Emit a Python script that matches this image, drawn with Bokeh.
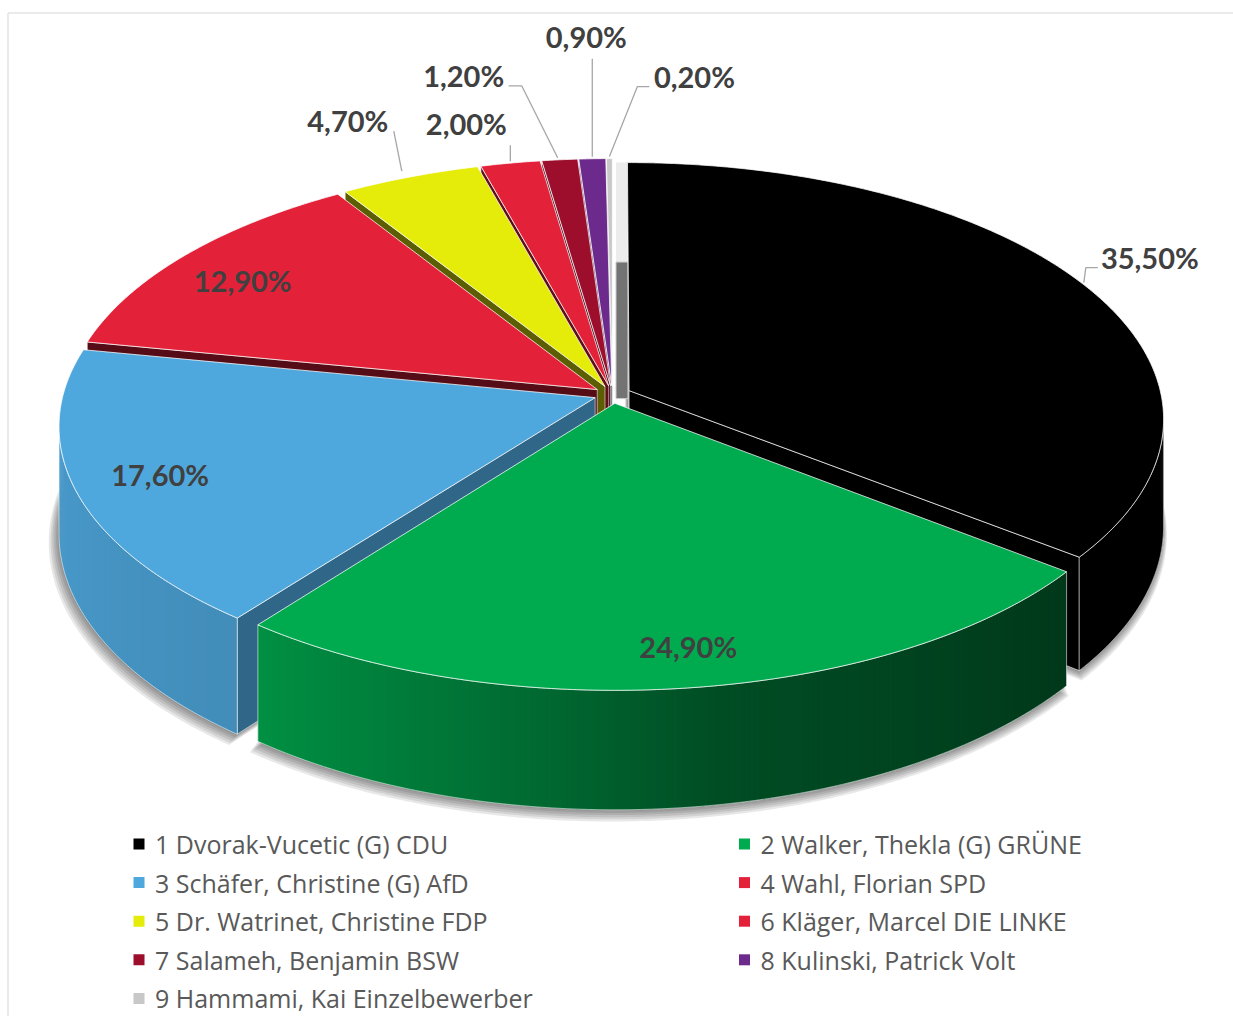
import numpy as np
from bokeh.plotting import figure
from bokeh.models import Range1d
from bokeh.core.properties import value
from bokeh.embed import file_html
from bokeh.resources import INLINE

# ---------------- data ----------------
candidates = [
    "1 Dvorak-Vucetic (G) CDU",
    "2 Walker, Thekla (G) GRÜNE",
    "3 Schäfer, Christine (G) AfD",
    "4 Wahl, Florian SPD",
    "5 Dr. Watrinet, Christine FDP",
    "6 Kläger, Marcel DIE LINKE",
    "7 Salameh, Benjamin BSW",
    "8 Kulinski, Patrick Volt",
    "9 Hammami, Kai Einzelbewerber",
]
shares = [35.5, 24.9, 17.6, 12.9, 4.7, 2.0, 1.2, 0.9, 0.2]
share_labels = ["35,50%", "24,90%", "17,60%", "12,90%", "4,70%", "2,00%", "1,20%", "0,90%", "0,20%"]
colors = ["#000000", "#00ab50", "#4fa8dd", "#e3223a", "#e6ec0a",
          "#e3223a", "#9c0e2c", "#6c2b8c", "#c8c8c8"]

# ---------------- layout / style ----------------
W, H = 1233, 1016
X0, Y0 = 0, 0
CX, CY = 612.0, 394.0
SX, SY = 532.0, 253.7
K = 0.109
T = 106.0
EXPL = 0.0348

LABEL_FONT = "Lato"
LEGEND_FONT = "Open Sans"

p = figure(width=W, height=H, x_range=Range1d(X0, X0 + W), y_range=Range1d(Y0 + H, Y0),
           output_backend="svg", toolbar_location=None, min_border=0,
           x_axis_location=None, y_axis_location=None)
p.xgrid.visible = False
p.ygrid.visible = False
p.outline_line_color = None
p.background_fill_color = "white"
p.border_fill_color = "white"

# chart border (top and left visible)
p.line([7.5, X0 + W], [12.5, 12.5], line_color="#e3e3e3", line_width=1.5)
p.line([7.5, 7.5], [12.5, Y0 + H], line_color="#e3e3e3", line_width=1.5)


def proj(X, Z, h=0.0):
    X = np.asarray(X, float)
    Z = np.asarray(Z, float)
    s = 1.0 / (1.0 + K * Z)
    return CX + SX * X * s, CY - SY * Z * s + T * np.asarray(h, float) * s


def sarea(xs, ys):
    xs = np.asarray(xs); ys = np.asarray(ys)
    return 0.5 * np.sum(xs * np.roll(ys, -1) - np.roll(xs, -1) * ys)


def shade(hexc, f):
    r, g, b = int(hexc[1:3], 16), int(hexc[3:5], 16), int(hexc[5:7], 16)
    return "#%02x%02x%02x" % (int(min(255, r * f)), int(min(255, g * f)), int(min(255, b * f)))


def wall_factor(deg):
    return float(np.interp(deg, [90, 127, 170, 185, 200, 217, 250, 280],
                           [0.25, 0.33, 0.45, 0.60, 0.72, 0.84, 0.90, 0.95]))


def radial_factor(deg):
    return float(np.interp(deg, [0, 90, 217, 281, 327, 360], [0.5, 0.5, 0.62, 0.38, 0.40, 0.45]))


total = float(sum(shares))
cum = np.concatenate([[0.0], np.cumsum(shares)]) / total * 2 * np.pi
n = len(shares)

slices = []
for i in range(n):
    a0, a1 = cum[i], cum[i + 1]
    mid = 0.5 * (a0 + a1)
    ox, oz = EXPL * np.sin(mid), EXPL * np.cos(mid)
    npts = max(3, int(np.degrees(a1 - a0) / 0.5) + 1)
    th = np.linspace(a0, a1, npts)
    slices.append(dict(a0=a0, a1=a1, mid=mid, ox=ox, oz=oz, th=th))

# ---------------- shadow ----------------
for j in range(6):
    sc = 1.0 + 0.0025 * j
    for i, s in enumerate(slices):
        X = np.concatenate([[s["ox"]], s["ox"] + sc * np.sin(s["th"])])
        Z = np.concatenate([[s["oz"]], s["oz"] + sc * np.cos(s["th"])])
        xs, ys = proj(X, Z, 1.0)
        p.patch(list(xs - 1 - 0.5 * j), list(ys + 1 + 1.3 * j), fill_color="#000000",
                fill_alpha=0.09, line_color=None)

# ---------------- walls ----------------
walls = []
for i, s in enumerate(slices):
    th = s["th"]
    X = s["ox"] + np.sin(th)
    Z = s["oz"] + np.cos(th)
    xt, yt = proj(X, Z, 0.0)
    xb, yb = proj(X, Z, 1.0)
    vis = []
    for j in range(len(th) - 1):
        a = sarea([xt[j], xt[j + 1], xb[j + 1], xb[j]], [yt[j], yt[j + 1], yb[j + 1], yb[j]])
        vis.append(a < 0)
    j = 0
    while j < len(vis):
        if vis[j]:
            k = j
            while k < len(vis) and vis[k]:
                k += 1
            sx, sy, sc_ = [], [], []
            for m in range(j, k):
                e = min(m + 2, k)
                sx.append(list(xt[m:e + 1]) + list(xb[m:e + 1][::-1]))
                sy.append(list(yt[m:e + 1]) + list(yb[m:e + 1][::-1]))
                sc_.append(shade(colors[i], wall_factor(np.degrees(0.5 * (th[m] + th[m + 1])))))
            ox_ = list(xt[j:k + 1]) + list(xb[j:k + 1][::-1])
            oy_ = list(yt[j:k + 1]) + list(yb[j:k + 1][::-1])
            walls.append(dict(depth=float(np.mean(Z[j:k + 1])), xs=sx, ys=sy, cols=sc_,
                              ox=ox_, oy=oy_))
            j = k
        else:
            j += 1
    for ang, is_start in [(s["a0"], True), (s["a1"], False)]:
        AX, AZ = s["ox"], s["oz"]
        RX, RZ = s["ox"] + np.sin(ang), s["oz"] + np.cos(ang)
        fx, fy = proj([AX, RX, RX, AX], [AZ, RZ, RZ, AZ], [0, 0, 1, 1])
        a = sarea(fx, fy)
        visible = (a < 0) if is_start else (a > 0)
        if visible:
            c = shade(colors[i], radial_factor(np.degrees(ang) % 360))
            walls.append(dict(depth=float(0.5 * (AZ + RZ)), xs=[list(fx)], ys=[list(fy)], cols=[c],
                              ox=list(fx), oy=list(fy)))

walls.sort(key=lambda w: -w["depth"])
for w in walls:
    p.patches(w["xs"], w["ys"], fill_color=w["cols"], line_color=None)
    p.patch(w["ox"], w["oy"], fill_color=None, line_color="#ffffff", line_alpha=0.55, line_width=1)

# end face of the last (smallest) slice, seen beside the first slice's start edge
s0 = slices[0]
bx_top, by_top = proj(s0["ox"], s0["oz"] + 1.0, 0.0)
bx_bot, by_bot = proj(s0["ox"], s0["oz"] + 1.0, 1.0)
ax_, ay_ = proj(s0["ox"], s0["oz"], 0.0)
xr = float(bx_top) + 0.5
xl = xr - 12.0
p.patch([xl, xr, xr, xl], [float(by_top), float(by_top), float(by_bot) + 4, float(by_bot) + 4],
        fill_color="#ececec", line_color=None)
p.patch([xl, xr, xr, xl], [float(by_bot) + 4, float(by_bot) + 4, float(ay_) + 8, float(ay_) + 8],
        fill_color="#737373", line_color="#d0d0d0", line_width=1)

# ---------------- top faces ----------------
for i, s in enumerate(slices):
    X = np.concatenate([[s["ox"]], s["ox"] + np.sin(s["th"])])
    Z = np.concatenate([[s["oz"]], s["oz"] + np.cos(s["th"])])
    xs, ys = proj(X, Z, 0.0)
    p.patch(list(xs), list(ys), fill_color=colors[i], line_color="#ffffff", line_alpha=0.75,
            line_width=1)

# ---------------- labels ----------------
label_inside_r = [None, 0.88, 0.845, 0.82, None, None, None, None, None]
label_nudge = [(0, 0), (8, -4), (1, -1), (-13, 2), (0, 0), (0, 0), (0, 0), (0, 0), (0, 0)]
label_offset = [(66, -27), None, None, None, (-62, -57), (-44, -40), (-96, -84), (-6, -122), (85, -82)]
leader_kind = ["left_elbow", None, None, None, "corner", "vertical", "right_elbow", "vertical", "left_elbow"]
label_half_w = [49, 49, 49, 49, 42, 42, 42, 42, 42]

lx, ly, lt = [], [], []
leaders_x, leaders_y = [], []
for i, s in enumerate(slices):
    mid = s["mid"]
    if label_inside_r[i] is not None:
        r = label_inside_r[i]
        x, y = proj(s["ox"] + r * np.sin(mid), s["oz"] + r * np.cos(mid), 0.0)
        lx.append(float(x) + label_nudge[i][0]); ly.append(float(y) + label_nudge[i][1])
        lt.append(share_labels[i])
        continue
    axp, ayp = proj(s["ox"] + np.sin(mid), s["oz"] + np.cos(mid), 0.0)
    axp, ayp = float(axp), float(ayp)
    dx, dy = label_offset[i]
    x, y = axp + dx, ayp + dy
    lx.append(x); ly.append(y); lt.append(share_labels[i])
    kind = leader_kind[i]
    hw = label_half_w[i]
    if kind == "left_elbow":
        ex, ey = x - hw - 3, y + 10
        leaders_x.append([axp, ex - 12, ex]); leaders_y.append([ayp - 2, ey, ey])
    elif kind == "right_elbow":
        ex, ey = x + hw + 3, y + 10
        leaders_x.append([axp - 2, ex + 13, ex]); leaders_y.append([ayp - 2, ey, ey])
    elif kind == "vertical":
        leaders_x.append([axp, axp]); leaders_y.append([ayp - 2, y + 22])
    elif kind == "corner":
        leaders_x.append([axp - 8, x + hw + 4]); leaders_y.append([ayp - 6, y + 11])

p.multi_line(leaders_x, leaders_y, line_color="#a6a6a6", line_width=1.3)
p.text(lx, ly, text=lt, text_font=value(LABEL_FONT), text_font_style="bold",
       text_font_size="29px", text_color="#404040", text_align="center", text_baseline="middle")

# ---------------- legend ----------------
col_x = [138.5, 744]
row_y0, row_dy = 843.5, 38.6
mx, my, mc, tx, ty = [], [], [], [], []
for i, name in enumerate(candidates):
    c, r = i % 2, i // 2
    mx.append(col_x[c]); my.append(row_y0 + r * row_dy); mc.append(colors[i])
    tx.append(col_x[c] + 16); ty.append(row_y0 + r * row_dy)
p.rect(mx, my, width=11, height=11, fill_color=mc, line_color=None)
p.text(tx, ty, text=candidates, text_font=value(LEGEND_FONT), text_font_size="25px",
       text_color="#595959", text_align="left", text_baseline="middle")

open("out.html", "w").write(file_html(p, INLINE))
